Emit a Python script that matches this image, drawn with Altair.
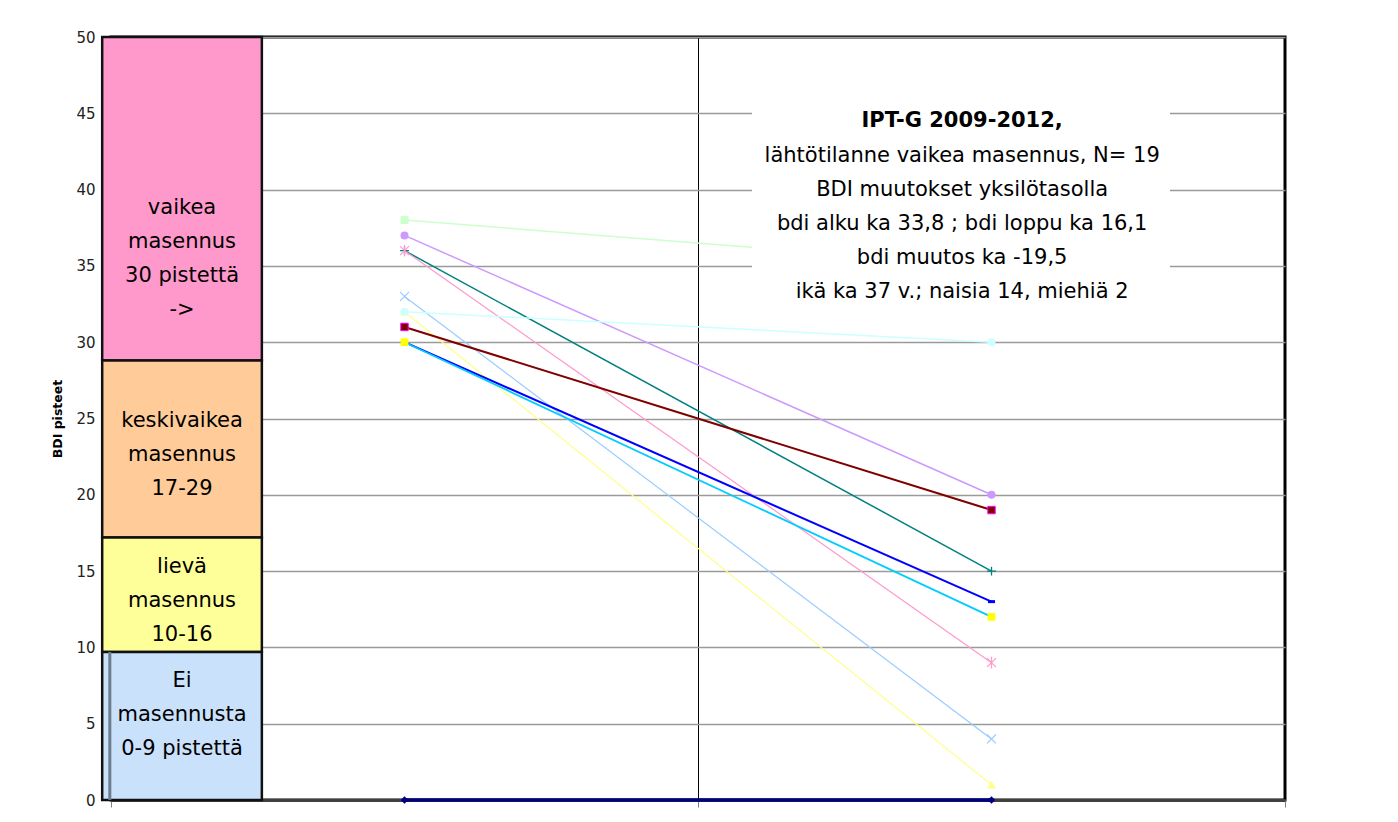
import altair as alt
import pandas as pd

# ---------------- data ----------------
categories = ["alku", "loppu"]
bdi_start = [38, 37, 36, 36, 33, 32, 32, 31, 30, 30, 0]
bdi_end = [35, 20, 15, 9, 4, 1, 30, 19, 13, 12, 0]

y_ticks = list(range(0, 51, 5))

band_labels = [
    "vaikea\nmasennus\n30 pistettä\n->",
    "keskivaikea\nmasennus\n17-29",
    "lievä\nmasennus\n10-16",
    "Ei\nmasennusta\n0-9 pistettä",
]
band_low = [28.8, 17.2, 9.7, 0]
band_high = [50, 28.8, 17.2, 9.7]
band_label_y = [38.4, 24.45, 14.85, 7.4]

info_title = "IPT-G 2009-2012,"
info_lines = [
    "lähtötilanne vaikea masennus, N= 19",
    "BDI muutokset yksilötasolla",
    "bdi alku ka 33,8 ; bdi loppu ka 16,1",
    "bdi muutos ka -19,5",
    "ikä ka 37 v.; naisia 14, miehiä 2",
]

# ---------------- styles ----------------
FONT = "DejaVu Sans"
band_colors = ["#FF99CC", "#FFCC99", "#FFFF99", "#C9E1FB"]
line_colors = ["#CCFFCC", "#CC99FF", "#008080", "#FF99CC", "#99CCFF", "#FFFF88",
               "#CCFFFF", "#800000", "#0000FF", "#00CCFF", "#000080"]
line_widths = [1.5, 1.5, 1.5, 1.2, 1.2, 1.2, 1.5, 2, 2, 1.8, 3.5]
PLUS = "M-1,0L1,0M0,-1L0,1"
XSH = "M-1,-1L1,1M1,-1L-1,1"
STAR = "M-1,-1L1,1M1,-1L-1,1M0,-1.3L0,1.3"
DASH = "M-1,0L1,0"
# (shape, fill, stroke, size, strokeWidth)
markers = [
    ("square", "#CCFFCC", None, 64, 0),
    ("circle", "#CC99FF", None, 64, 0),
    (PLUS, None, "#008080", 80, 1.3),
    (STAR, None, "#FF99CC", 80, 1.2),
    (XSH, None, "#99CCFF", 80, 1.2),
    ("triangle-up", "#FFFF88", None, 80, 0),
    ("circle", "#CCFFFF", None, 64, 0),
    ("square", "#800000", "#FF00FF", 55, 1),
    (DASH, None, "#0000FF", 50, 3),
    ("square", "#FFFF00", None, 60, 0),
    ("diamond", "#000080", None, 60, 0),
]

box_x0, box_x1 = -0.015, 0.257
info_x0, info_x1, info_y0, info_y1 = 1.092, 1.804, 31.3, 46.5
info_cx = 1.45

W, H = 1174, 763

x_axis = alt.Axis(values=[0, 1, 2], labels=False, ticks=True, tickSize=7,
                  tickColor="#808080", tickWidth=1, domainColor="#404040",
                  domainWidth=3, grid=True, gridColor="#000000", gridWidth=1,
                  title=None)
y_axis = alt.Axis(values=y_ticks, title="BDI pisteet", titleFont=FONT,
                  titleFontSize=12.5, titleFontWeight="bold", titleColor="#000",
                  titleAngle=-90, titleX=-54, titleY=H / 2, titleAlign="center",
                  titleBaseline="middle", labelFont=FONT, labelFontSize=15,
                  labelColor="#222", ticks=False, tickSize=0, labelPadding=16,
                  domain=False, grid=True, gridColor="#9a9a9a", gridWidth=1.6)

xs = alt.Scale(domain=[0, 2], nice=False, zero=False)
ys = alt.Scale(domain=[0, 50], nice=False, zero=False)


def X(f="x"):
    return alt.X(f"{f}:Q", scale=xs, axis=x_axis)


def Y(f="y"):
    return alt.Y(f"{f}:Q", scale=ys, axis=y_axis)


layers = []

# severity bands
bands = pd.DataFrame({"x0": box_x0, "x1": box_x1, "lo": band_low, "hi": band_high,
                      "c": band_colors, "label": band_labels, "ly": band_label_y,
                      "cx": (box_x0 + box_x1) / 2})
layers.append(alt.Chart(bands).mark_rect(stroke="#111", strokeWidth=2.5).encode(
    x=X("x0"), x2="x1:Q", y=Y("lo"), y2="hi:Q",
    fill=alt.Fill("c:N", scale=None)))
layers.append(alt.Chart(bands).mark_rule(color="#6b7c8e", strokeWidth=3).encode(
    x=alt.X("ax:Q", scale=xs, axis=x_axis), y=Y("lo"), y2="hi:Q"
).transform_filter("datum.lo == 0").transform_calculate(ax="-0.002"))
layers.append(alt.Chart(bands).mark_text(font=FONT, fontSize=21, lineBreak="\n",
                                         lineHeight=34, align="center",
                                         baseline="alphabetic", color="#000").encode(
    x=X("cx"), y=Y("ly"), text="label:N"))

# individual series
for i, (s, e) in enumerate(zip(bdi_start, bdi_end)):
    df = pd.DataFrame({"cat": categories,
                       "x": [k + 0.5 for k in range(len(categories))],
                       "y": [s, e]})
    layers.append(alt.Chart(df).mark_line(color=line_colors[i],
                                          strokeWidth=line_widths[i]).encode(x=X(), y=Y()))
    shape, fill, stroke, size, sw = markers[i]
    kw = dict(shape=shape, size=size, opacity=1)
    if fill:
        kw.update(filled=True, fill=fill)
    else:
        kw.update(filled=False, fill="transparent")
    if stroke:
        kw.update(stroke=stroke, strokeWidth=sw)
    else:
        kw.update(strokeWidth=0)
    layers.append(alt.Chart(df).mark_point(**kw).encode(x=X(), y=Y()))

# info box
info = pd.DataFrame({"x0": [info_x0], "x1": [info_x1], "y0": [info_y0], "y1": [info_y1],
                     "cx": [info_cx], "ty": [44.08], "by": [41.82],
                     "title": [info_title], "body": ["\n".join(info_lines)]})
layers.append(alt.Chart(info).mark_rect(fill="white").encode(
    x=X("x0"), x2="x1:Q", y=Y("y0"), y2="y1:Q"))
layers.append(alt.Chart(info).mark_text(font=FONT, fontSize=21, fontWeight="bold",
                                        align="center", baseline="alphabetic",
                                        color="#000").encode(x=X("cx"), y=Y("ty"), text="title:N"))
layers.append(alt.Chart(info).mark_text(font=FONT, fontSize=21, lineBreak="\n",
                                        lineHeight=34, align="center",
                                        baseline="alphabetic", color="#000").encode(
    x=X("cx"), y=Y("by"), text="body:N"))

chart = alt.layer(*layers).properties(
    width=W, height=H,
    background="white",
    autosize=alt.AutoSizeParams(type="none"),
    padding={"left": 103, "top": 29, "right": 100, "bottom": 14},
).configure_view(stroke="#000", strokeWidth=3)

chart.save("out.html", embed_options={"renderer": "svg", "actions": False})
